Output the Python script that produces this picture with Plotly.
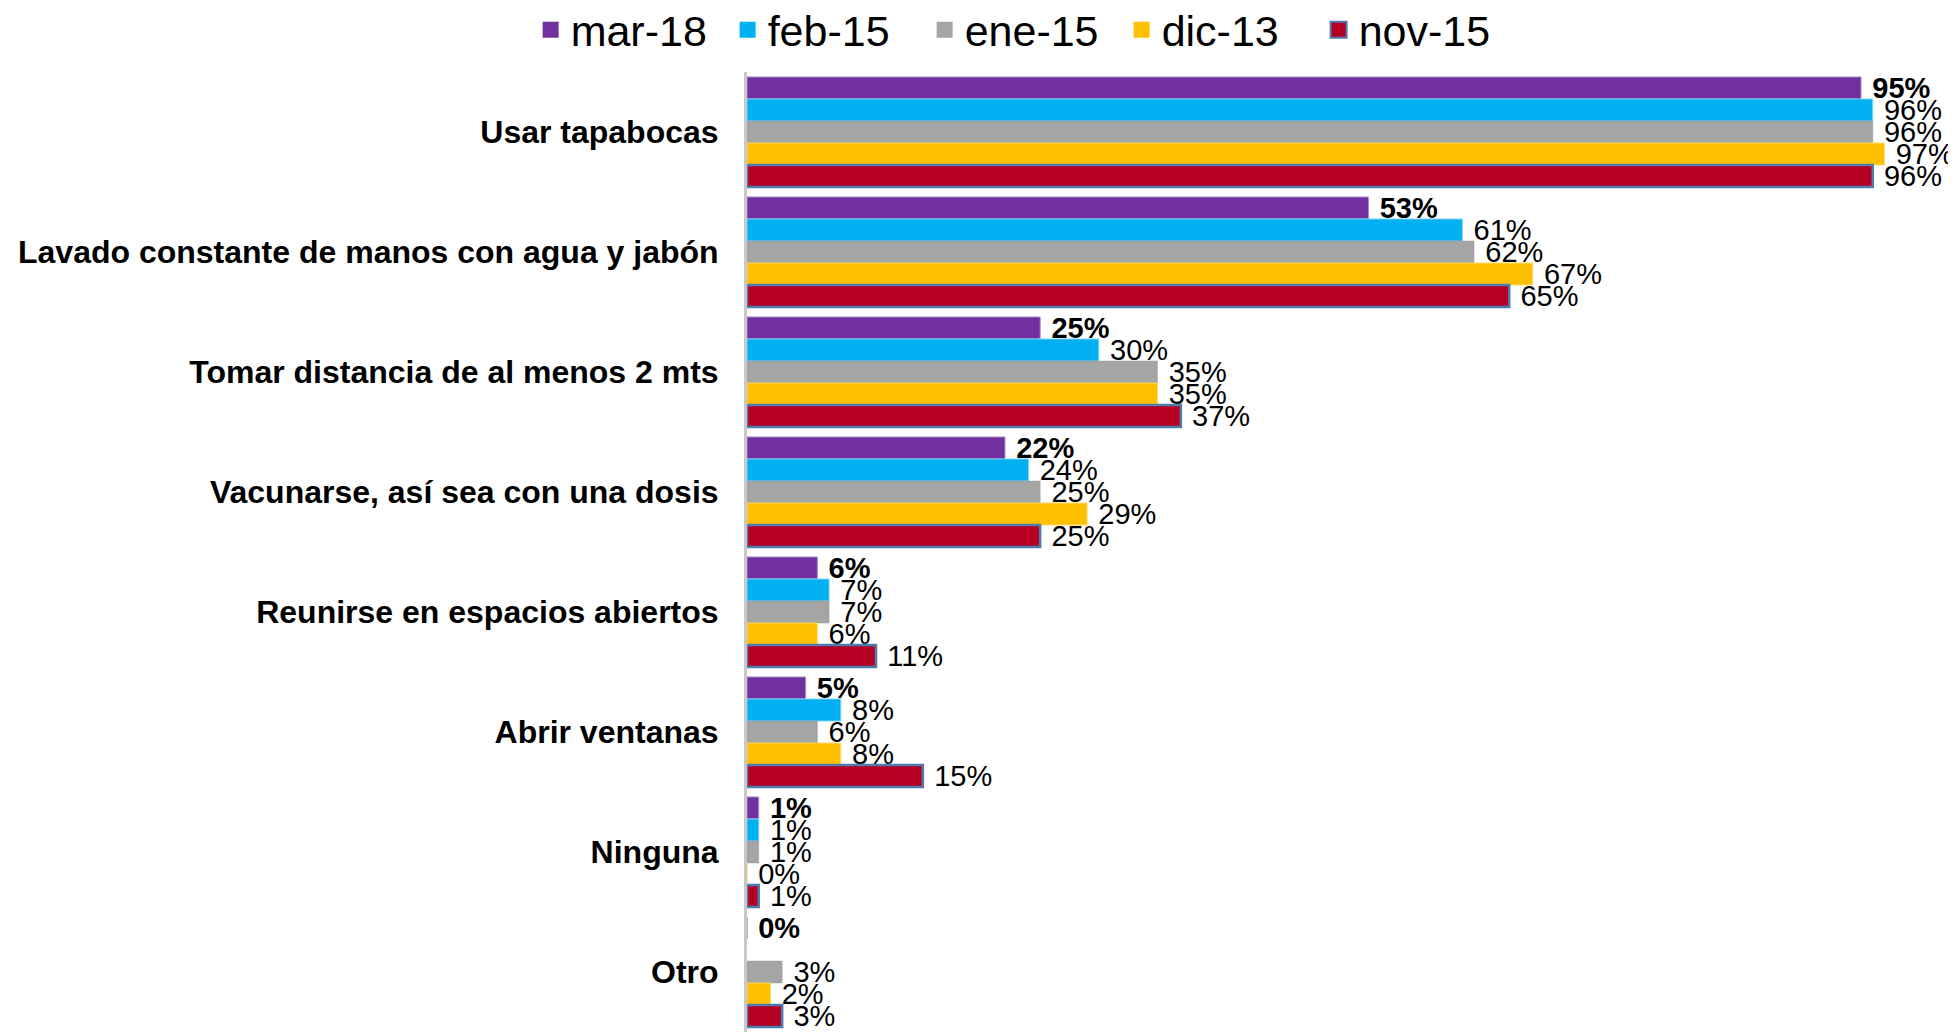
import plotly.graph_objects as go

categories = [
    "Usar tapabocas",
    "Lavado constante de manos con agua y jabón",
    "Tomar distancia de al menos 2 mts",
    "Vacunarse, así sea con una dosis",
    "Reunirse en espacios abiertos",
    "Abrir ventanas",
    "Ninguna",
    "Otro",
]

series_names = ["mar-18", "feb-15", "ene-15", "dic-13", "nov-15"]
mar18 = [95, 53, 25, 22, 6, 5, 1, 0]
feb15 = [96, 61, 30, 24, 7, 8, 1, None]
ene15 = [96, 62, 35, 25, 7, 6, 1, 3]
dic13 = [97, 67, 35, 29, 6, 8, 0, 2]
nov15 = [96, 65, 37, 25, 11, 15, 1, 3]
series_values = [mar18, feb15, ene15, dic13, nov15]

colors = ["#7030A0", "#00B0F0", "#A5A5A5", "#FFC000", "#B50024"]
line_colors = ["#A98BC9", "#7FD6F7", "#9A9A9A", "#FFD966", "#4F7CB0"]
line_widths = [1, 1, 0.5, 1, 2.5]
legend_line_widths = [0, 0, 0, 0, 2]

FONT = "Liberation Sans, Arial, sans-serif"

fig = go.Figure()
for i, (name, vals) in enumerate(zip(series_names, series_values)):
    if i == 0:
        texts = ["\u2009\u200a<b>%d%%</b>" % v if v is not None else "" for v in vals]
    else:
        texts = ["\u2009\u200a%d%%" % v if v is not None else "" for v in vals]
    fig.add_trace(go.Bar(
        name=name,
        legendgroup=name,
        showlegend=False,
        y=categories,
        x=vals,
        orientation="h",
        marker=dict(color=colors[i], line=dict(color=line_colors[i], width=line_widths[i])),
        text=texts,
        textposition="outside",
        constraintext="none",
        cliponaxis=False,
        textfont=dict(family=FONT, size=29, color="#000000"),
        hoverinfo="skip",
    ))

# legend entries with larger square swatches
for i, name in enumerate(series_names):
    fig.add_trace(go.Scatter(
        name=name,
        legendgroup=name,
        x=[None],
        y=[None],
        mode="markers",
        marker=dict(symbol="square", size=16, color=colors[i],
                    line=dict(color=line_colors[i], width=legend_line_widths[i])),
        hoverinfo="skip",
    ))

fig.update_layout(
    width=1948,
    height=1024,
    barmode="group",
    bargap=0.083,
    bargroupgap=0,
    plot_bgcolor="white",
    paper_bgcolor="white",
    margin=dict(l=739, r=0, t=64, b=0, autoexpand=False),
    font=dict(family=FONT, color="#000000"),
    legend=dict(
        orientation="h",
        xref="paper",
        yref="paper",
        x=0.2284,
        xanchor="center",
        y=1.044,
        yanchor="middle",
        font=dict(family=FONT, size=43, color="#000000"),
        traceorder="normal",
        itemsizing="trace",
        itemwidth=30,
        entrywidth=152,
        entrywidthmode="pixels",
        bgcolor="rgba(0,0,0,0)",
    ),
    xaxis=dict(
        range=[0, 103.1],
        visible=False,
        showgrid=False,
        zeroline=False,
        automargin=False,
    ),
    yaxis=dict(
        autorange="reversed",
        showline=True,
        linecolor="#C8C8C8",
        linewidth=3,
        showgrid=False,
        ticks="",
        automargin=False,
        ticklabelstandoff=19,
        tickfont=dict(family=FONT, size=32, color="#000000", weight="bold"),
    ),
)

fig.write_html("out.html")
